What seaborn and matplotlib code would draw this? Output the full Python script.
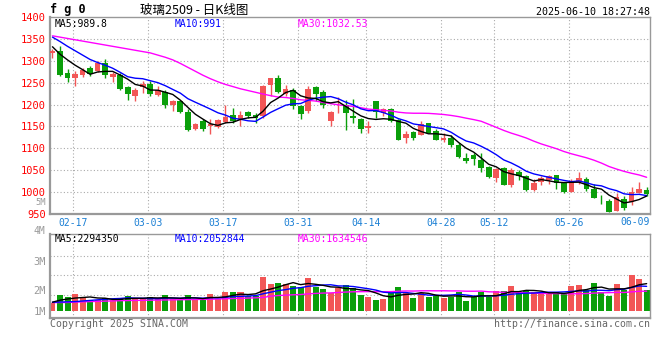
import numpy as np
import pandas as pd
import matplotlib
matplotlib.use("Agg")
import matplotlib.pyplot as plt
import matplotlib.transforms as mtransforms
import seaborn as sns

sns.set_style("white")
plt.rcParams["font.family"] = ["DejaVu Sans Mono", "DejaVu Sans"]

# trading days 2025-02-12 .. 2025-06-10 (holidays removed)
holidays = ["2025-04-04", "2025-05-01", "2025-05-02", "2025-05-05", "2025-06-02"]
dates = pd.bdate_range("2025-02-12", "2025-06-10").drop(pd.to_datetime(holidays)).strftime("%m-%d").tolist()
tick_dates = ["02-17", "03-03", "03-17", "03-31", "04-14", "04-28", "05-12", "05-26"]
last_tick = "06-09"

opens = [1318, 1323, 1271, 1260, 1267, 1284, 1276, 1296, 1262, 1267,
         1239, 1220, 1240, 1246, 1221, 1228, 1200, 1208, 1183, 1145,
         1162, 1151, 1149, 1161, 1177, 1166, 1182, 1177, 1173, 1244,
         1261, 1225, 1234, 1196, 1186, 1239, 1228, 1162, 1192, 1200,
         1175, 1166, 1146, 1208, 1181, 1189, 1164, 1123, 1137, 1130,
         1157, 1139, 1118, 1123, 1108, 1079, 1084, 1073, 1058, 1033,
         1055, 1016, 1046, 1036, 1005, 1022, 1028, 1039, 1020, 1001,
         1022, 1031, 1008, 985, 979, 957, 984, 977, 999, 1005]
highs = [1328, 1334, 1281, 1277, 1283, 1289, 1300, 1305, 1274, 1272,
         1243, 1238, 1253, 1253, 1242, 1234, 1211, 1211, 1189, 1158,
         1167, 1166, 1167, 1200, 1193, 1185, 1186, 1181, 1245, 1261,
         1268, 1245, 1238, 1200, 1242, 1243, 1234, 1185, 1217, 1210,
         1213, 1170, 1162, 1208, 1192, 1191, 1166, 1139, 1140, 1162,
         1158, 1145, 1136, 1130, 1113, 1090, 1090, 1090, 1059, 1056,
         1058, 1054, 1051, 1039, 1031, 1036, 1039, 1039, 1023, 1030,
         1045, 1034, 1018, 993, 985, 999, 992, 1011, 1022, 1012]
lows = [1306, 1266, 1251, 1242, 1264, 1266, 1274, 1261, 1251, 1234,
        1211, 1208, 1227, 1219, 1219, 1192, 1185, 1180, 1139, 1142,
        1139, 1132, 1147, 1158, 1159, 1151, 1170, 1157, 1170, 1220,
        1226, 1219, 1189, 1168, 1181, 1208, 1192, 1152, 1181, 1142,
        1158, 1136, 1134, 1170, 1175, 1160, 1118, 1113, 1120, 1130,
        1135, 1118, 1114, 1102, 1077, 1067, 1062, 1046, 1033, 1023,
        1016, 1011, 1028, 1003, 1003, 1017, 1018, 1007, 998, 1000,
        1018, 1003, 986, 973, 955, 956, 960, 970, 998, 992]
closes = [1323, 1268, 1260, 1270, 1278, 1270, 1294, 1267, 1270, 1236,
          1223, 1234, 1248, 1225, 1234, 1200, 1208, 1183, 1143, 1155,
          1145, 1155, 1164, 1172, 1162, 1177, 1173, 1170, 1242, 1261,
          1228, 1236, 1196, 1179, 1236, 1223, 1198, 1183, 1193, 1181,
          1169, 1145, 1152, 1183, 1189, 1163, 1120, 1132, 1123, 1155,
          1136, 1120, 1123, 1107, 1081, 1071, 1075, 1056, 1035, 1052,
          1016, 1050, 1036, 1005, 1020, 1032, 1036, 1020, 1001, 1023,
          1033, 1008, 986, 984, 955, 988, 963, 1001, 1008, 995]
# volume in millions of lots
volumes = [0.70, 1.36, 1.16, 1.44, 1.07, 0.93, 0.93, 1.07, 0.93, 1.07,
           1.27, 1.07, 1.07, 1.16, 0.98, 1.36, 0.98, 0.93, 1.36, 0.93,
           1.07, 1.44, 0.98, 1.58, 1.58, 1.58, 1.27, 1.27, 2.91, 2.29,
           2.40, 2.29, 2.15, 2.06, 2.77, 2.06, 1.84, 1.50, 1.92, 2.20,
           1.98, 1.36, 1.21, 0.93, 0.99, 1.50, 2.06, 1.55, 1.13, 1.55,
           1.21, 1.27, 1.13, 1.21, 1.58, 0.88, 1.21, 1.58, 1.16, 1.69,
           1.69, 2.12, 1.58, 1.69, 1.64, 1.41, 1.41, 1.58, 1.41, 2.12,
           2.20, 1.78, 2.40, 1.64, 1.30, 2.29, 1.78, 3.05, 2.71, 1.78]

# moving-average values before enough history exists
ma5_head = [1332, 1315, 1302, 1290]
ma10_head = [1354, 1344, 1333, 1323, 1313, 1303, 1296, 1290, 1283]
ma30_head = [1357, 1354, 1351, 1348, 1345, 1342, 1339, 1336, 1333, 1330,
             1327, 1324, 1321, 1318, 1313, 1308, 1302, 1294, 1285, 1276,
             1267, 1259, 1252, 1246, 1241, 1236, 1232, 1228, 1224]
vol_ma5_head = [0.75, 0.92, 1.02, 1.10]
vol_ma10_head = [0.75, 0.76, 0.78, 0.80, 0.85, 0.90, 0.95, 1.00, 1.04]
vol_ma30_head = [0.72, 0.72, 0.73, 0.75, 0.78, 0.80, 0.82, 0.84, 0.86, 0.88,
                 0.89, 0.90, 0.91, 0.92, 0.93, 0.94, 0.95, 0.96, 0.97, 0.98,
                 0.99, 1.00, 1.02, 1.04, 1.06, 1.08, 1.10, 1.12, 1.15]

RED = "#f25656"
GREEN = "#0a9f0a"
GRID = "#aaaaaa"
SPINE = "#999999"
XLAB = "#1a7fd4"

df = pd.DataFrame({"date": dates, "open": opens, "high": highs, "low": lows,
                   "close": closes, "vol": volumes})
df["i"] = np.arange(len(df))
df["up"] = df["close"] >= df["open"]
df["color"] = np.where(df["up"], RED, GREEN)


def moving(series, n, head):
    m = series.rolling(n).mean()
    m.iloc[:n - 1] = head
    return m


df["ma5"] = moving(df["close"], 5, ma5_head)
df["ma10"] = moving(df["close"], 10, ma10_head)
df["ma30"] = moving(df["close"], 30, ma30_head)
df["vma5"] = moving(df["vol"], 5, vol_ma5_head)
df["vma10"] = moving(df["vol"], 10, vol_ma10_head)
df["vma30"] = moving(df["vol"], 30, vol_ma30_head)

W, H = 660, 360
fig = plt.figure(figsize=(6.6, 3.6), dpi=100)
fig.patch.set_facecolor("white")
ax = fig.add_axes([50 / W, 1 - 214 / H, 600 / W, 197 / H])
axv = fig.add_axes([50 / W, 1 - 318 / H, 600 / W, 84 / H])


def ftext(x, y, s, **kw):
    fig.text(x / W, 1 - y / H, s, va="center", **kw)


tick_pos = [dates.index(d) - 0.3 for d in tick_dates]

for a in (ax, axv):
    for sp in a.spines.values():
        sp.set_color(SPINE)
        sp.set_linewidth(1.0)
    a.spines["left"].set_linewidth(1.6)
    a.spines["bottom"].set_linewidth(1.6)
    for xp in tick_pos:
        a.axvline(xp, color=GRID, lw=0.8, ls=(0, (1, 2)), zorder=0)

# ---- price panel ----
for yv in range(1000, 1400, 50):
    ax.axhline(yv, color=GRID, lw=0.8, ls=(0, (1, 2)), zorder=0)

ax.vlines(df["i"], df["low"], df["high"], colors=df["color"], lw=1, zorder=2)
body = (df["close"] - df["open"]).abs().clip(lower=1.2)
ax.bar(df["i"], body, bottom=df[["open", "close"]].min(axis=1), width=0.76,
       color=df["color"], linewidth=0, zorder=3)

sns.lineplot(data=df, x="i", y="ma30", ax=ax, color="#ff00ff", lw=1, zorder=4)
sns.lineplot(data=df, x="i", y="ma10", ax=ax, color="#0000ff", lw=1, zorder=4)
sns.lineplot(data=df, x="i", y="ma5", ax=ax, color="black", lw=1, zorder=4)
ax.set_xlabel("")
ax.set_ylabel("")
ax.set_xlim(-0.33, len(df) - 0.55)
ax.set_ylim(950, 1400)
ax.set_yticks(range(950, 1401, 50))
ax.tick_params(axis="y", length=0, pad=3, labelcolor="red", labelsize=7.5)
ax.set_xticks(tick_pos)
ax.set_xticklabels(tick_dates)
ax.tick_params(axis="x", length=0, pad=3, labelcolor=XLAB, labelsize=7)
ax.text(1.0, -8 / 197, last_tick, transform=ax.transAxes, ha="right",
        va="center", color=XLAB, fontsize=7)

# ---- volume panel ----
axv.bar(df["i"], df["vol"], width=0.8, color=df["color"], linewidth=0, zorder=2)
sns.lineplot(data=df, x="i", y="vma30", ax=axv, color="#ff00ff", lw=1, zorder=4)
sns.lineplot(data=df, x="i", y="vma10", ax=axv, color="#0000ff", lw=1, zorder=4)
sns.lineplot(data=df, x="i", y="vma5", ax=axv, color="black", lw=1, zorder=4)
axv.set_xlabel("")
axv.set_ylabel("")
axv.set_xlim(-0.33, len(df) - 0.55)
axv.set_ylim(-0.59, 6.53)
axv.set_xticks([])
for yv in (1.36, 3.05, 4.66):
    axv.axhline(yv, color=GRID, lw=0.8, ls=(0, (1, 2)), zorder=0)
axv.set_yticks([0, 1.78, 4.24])
axv.set_yticklabels(["1M", "2M", "3M"])
axv.tick_params(axis="y", length=0, pad=3, labelcolor="#999999", labelsize=7.5)
blend = mtransforms.blended_transform_factory(axv.transAxes, axv.transData)
for yv, lab, fs in ((6.78, "4M", 7), (9.2, "5M", 6.3)):
    axv.text(-0.0075, yv, lab, transform=blend, ha="right", va="center",
             color="#999999", fontsize=fs, clip_on=False)

# ---- texts ----
ftext(50, 10, "f g 0", fontsize=8.5, fontweight="bold", color="black")
ftext(140, 10, "玻璃2509 - 日K线图", fontsize=9, color="black",
      family=["Noto Sans CJK SC", "DejaVu Sans"])
ftext(650, 12, "2025-06-10 18:27:48", fontsize=7.2, ha="right", color="black")

ftext(55, 24, "MA5:989.8", fontsize=7, color="black")
ftext(175, 24, "MA10:991", fontsize=7, color="#0000ff")
ftext(298, 24, "MA30:1032.53", fontsize=7, color="#ff00ff")
ftext(55, 239, "MA5:2294350", fontsize=7, color="black")
ftext(175, 239, "MA10:2052844", fontsize=7, color="#0000ff")
ftext(298, 239, "MA30:1634546", fontsize=7, color="#ff00ff")

ftext(50, 324, "Copyright 2025 SINA.COM", fontsize=7.1, color="#666666")
ftext(650, 324, "http://finance.sina.com.cn", fontsize=7.1, ha="right", color="#666666")

fig.savefig("out.png", dpi=100, facecolor="white")
